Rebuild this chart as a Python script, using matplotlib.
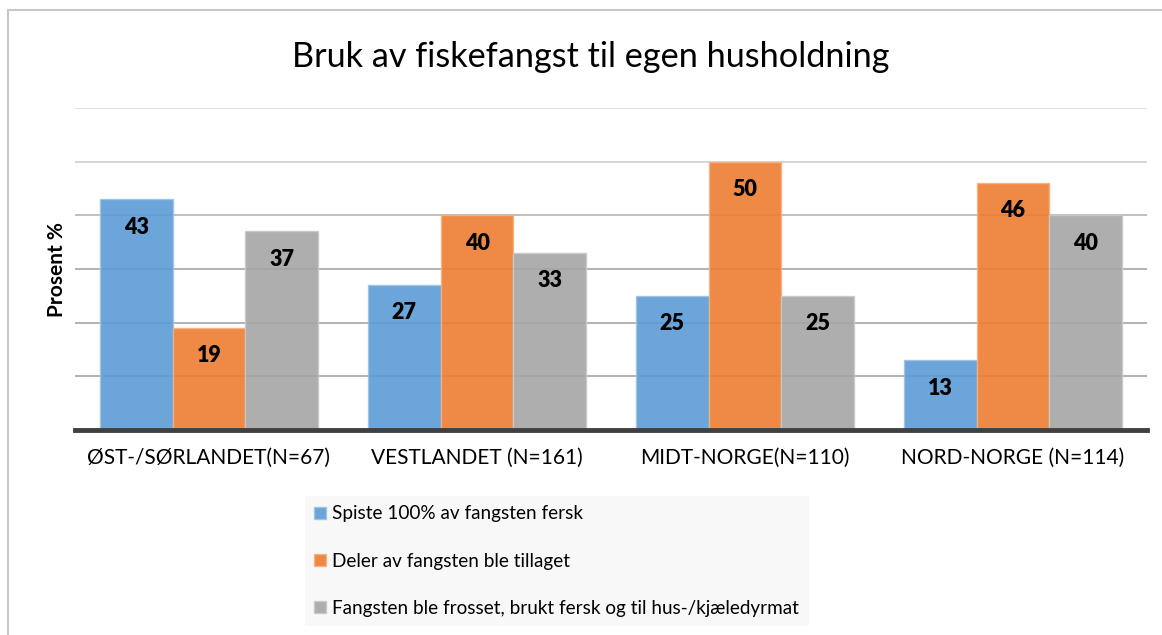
import matplotlib
matplotlib.use("Agg")
import matplotlib.pyplot as plt
import numpy as np
from matplotlib.lines import Line2D

plt.rcParams["font.family"] = ["Lato", "DejaVu Sans"]

# data
regions = ["ØST-/SØRLANDET(N=67)", "VESTLANDET (N=161)", "MIDT-NORGE(N=110)", "NORD-NORGE (N=114)"]
series_names = [
    "Spiste 100% av fangsten fersk",
    "Deler av fangsten ble tillaget",
    "Fangsten ble frosset, brukt fersk og til hus-/kjæledyrmat",
]
spiste_fersk = [43, 27, 25, 13]
tillaget = [19, 40, 50, 46]
frosset = [37, 33, 25, 40]
y_ticks = [0, 10, 20, 30, 40, 50, 60]

colors = ["#5B9BD5", "#ED7D31", "#A5A5A5"]
edges = ["#9DC3E6", "#F4B183", "#C9C9C9"]

W, H = 1162, 635
fig = plt.figure(figsize=(W / 100, H / 100), dpi=100)
ax = fig.add_axes([75 / W, 1 - 430 / H, (1147 - 75) / W, (430 - 108) / H])

x = np.arange(len(regions))
width = 0.272
handles = []
for i, (vals, name) in enumerate(zip([spiste_fersk, tillaget, frosset], series_names)):
    bars = ax.bar(x + (i - 1) * width, vals, width, color=colors[i], alpha=0.9,
                  edgecolor=edges[i], linewidth=1, zorder=3, label=name)
    handles.append(bars)
    for b, v in zip(bars, vals):
        ax.annotate(f"{v}", (b.get_x() + b.get_width() / 2, v), xytext=(0, -20),
                    textcoords="offset points", ha="center", va="center",
                    fontsize=15.5, fontweight="heavy", color="black", zorder=4)

ax.set_xlim(-0.5, 3.5)
ax.set_ylim(0, 60)
ax.set_yticks(y_ticks)
ax.set_yticklabels([])
ax.tick_params(axis="y", length=0)
ax.tick_params(axis="x", length=0, pad=13, labelsize=15)
ax.set_xticks(x)
ax.set_xticklabels(regions)
for s in ax.spines.values():
    s.set_visible(False)
ax.yaxis.grid(True, zorder=0)
grid_cols = ["#404040", "#A6A6A6", "#A6A6A6", "#A6A6A6", "#B5B5B5", "#CFCFCF", "#DDDDDD"]
for gl, c in zip(ax.get_ygridlines(), grid_cols):
    gl.set_color(c)
    gl.set_linewidth(1.2)
ax.axhline(0, color="#404040", lw=3.5, zorder=5, clip_on=False)

fig.text(591 / W, 1 - 57 / H, "Bruk av fiskefangst til egen husholdning",
         ha="center", va="center", fontsize=24.7)
fig.text(57 / W, 1 - 270 / H, "Prosent %", rotation=90, ha="center", va="center",
         fontsize=15, fontweight="bold")

# outer frame
fig.add_artist(Line2D([8 / W, 8 / W], [0, 1 - 10 / H], transform=fig.transFigure,
                      color="#C8C8C8", lw=1.5))
fig.add_artist(Line2D([8 / W, 1], [1 - 10 / H, 1 - 10 / H], transform=fig.transFigure,
                      color="#C8C8C8", lw=1.5))

leg = fig.legend(handles=handles, loc="upper left", bbox_to_anchor=(305 / W, 1 - 496 / H),
                 frameon=True, fontsize=13.6, handlelength=0.6, handleheight=0.6,
                 handletextpad=0.35, labelspacing=1.6, borderpad=0.5, borderaxespad=0,
                 fancybox=False)
leg.get_frame().set_facecolor("#F7F7F7")
leg.get_frame().set_edgecolor("none")

fig.savefig("out.png", dpi=100)
